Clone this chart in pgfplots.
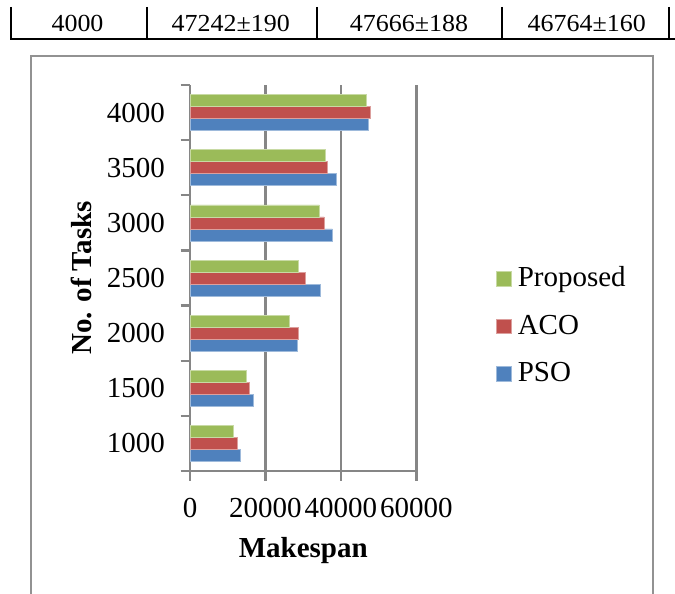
\documentclass[border=0pt]{standalone}
\usepackage{pgfplots}
\pgfplotsset{compat=1.18}
\usepackage{fontspec}
\setmainfont{Liberation Serif}

\definecolor{psoblue}{HTML}{4F81BD}
\definecolor{acored}{HTML}{C0504D}
\definecolor{propgreen}{HTML}{9BBB59}
\definecolor{axisgray}{HTML}{868686}

\newcommand{\chartfont}{\fontsize{29}{34}\selectfont}
\newcommand{\tablefont}{\fontsize{24.5}{28}\selectfont}

\begin{document}
\begin{tikzpicture}
\path[use as bounding box] (0pt,0pt) rectangle (675pt,-594pt);
\clip (0pt,0pt) rectangle (675pt,-594pt);

% last row of the results table
\begin{scope}[x=1pt,y=1pt]
  \begin{scope}[line width=1.8pt]
    \draw (11,-7) -- (11,-39);
    \draw (10,-39) -- (690,-39);
    \foreach \xx in {147,317,502,669} \draw (\xx,-7) -- (\xx,-39);
  \end{scope}
  \node[font=\tablefont, anchor=base, xscale=1.06] at (77.5,-31.7) {4000};
  \node[font=\tablefont, anchor=base, xscale=1.06] at (230.8,-31.7) {47242±190};
  \node[font=\tablefont, anchor=base, xscale=1.06] at (409,-31.7) {47666±188};
  \node[font=\tablefont, anchor=base, xscale=1.06] at (586.7,-31.7) {46764±160};
  % chart frame
  \draw[axisgray!90, line width=1.6pt] (31,-620) -- (31,-56) -- (652.7,-56) -- (652.7,-620);
\end{scope}

\begin{axis}[
  at={(190pt,-471pt)}, anchor=south west,
  scale only axis, width=226.5pt, height=386pt,
  xbar=0pt, bar width=12pt,
  xmin=0, xmax=60000, ymin=-0.5, ymax=6.5,
  axis x line*=bottom, axis y line*=left,
  axis line style={-, draw=axisgray, line width=2.2pt},
  scaled x ticks=false,
  xtick={0,20000,40000,60000},
  xticklabels={0,20000,40000,60000},
  ytick={0,...,6},
  yticklabels={1000,1500,2000,2500,3000,3500,4000},
  minor xtick={0,20000,40000,60000},
  minor ytick={-0.5,0.5,...,6.5},
  major tick length=0pt, minor tick length=9.5pt,
  tick align=outside,
  every tick/.style={draw=axisgray, line width=2.2pt},
  xmajorgrids,
  major grid style={draw=axisgray, line width=2.2pt},
  tick label style={font=\chartfont, inner sep=0pt},
  xticklabel style={yshift=-27pt},
  yticklabel style={xshift=-25pt},
  xlabel={Makespan}, ylabel={No. of Tasks},
  label style={font=\chartfont\bfseries, inner sep=0pt},
  xlabel style={at={(axis description cs:0.5,-0.2228)}, anchor=base},
  ylabel style={at={(axis description cs:-0.434,0.5)}, anchor=base},
  legend style={
    at={(axis description cs:1.351,0.3834)}, anchor=west,
    draw=none, fill=none, inner sep=0pt, font=\chartfont,
    row sep=22pt, column sep=0pt,
    nodes={inner sep=0pt},
    /tikz/every odd column/.append style={column sep=6.3pt},
  },
  legend cell align=left,
  legend image code/.code={\fill[#1] (0pt,-10.7pt) rectangle (14.7pt,4pt);},
  reverse legend,
]
% makespan per number of tasks: 1000, 1500, ..., 4000
\addplot[fill=psoblue, draw=psoblue!55!white, line width=0.6pt]
  coordinates {(13200,0) (16700,1) (28300,2) (34600,3) (37700,4) (38700,5) (47242,6)};
\addlegendentry{\strut PSO}
\addplot[fill=acored, draw=acored!55!white, line width=0.6pt]
  coordinates {(12600,0) (15600,1) (28600,2) (30500,3) (35500,4) (36500,5) (47666,6)};
\addlegendentry{\strut ACO}
\addplot[fill=propgreen, draw=propgreen!55!white, line width=0.6pt]
  coordinates {(11600,0) (14800,1) (26300,2) (28800,3) (34300,4) (35800,5) (46764,6)};
\addlegendentry{\strut Proposed}
\end{axis}
\end{tikzpicture}
\end{document}
